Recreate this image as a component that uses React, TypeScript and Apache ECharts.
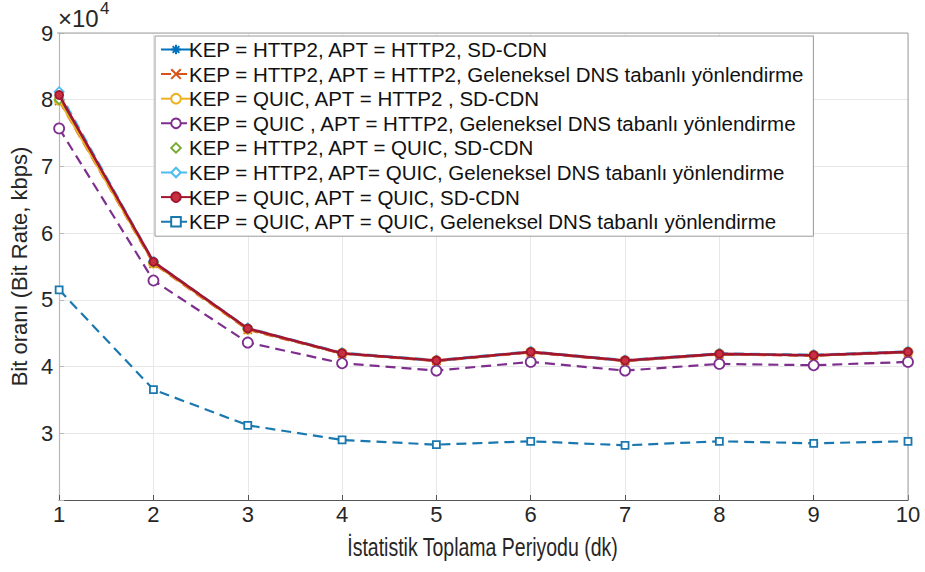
import React, { useEffect, useRef } from "react";
import * as echarts from "echarts";

// Statistics collection period (minutes)
const periods = [1, 2, 3, 4, 5, 6, 7, 8, 9, 10];

// Bit rate (kbps) per configuration
const http2Http2SdCdn = [80300, 55600, 45600, 41950, 40850, 42150, 40850, 41850, 41650, 42150];
const http2Http2Dns = [79800, 55400, 45500, 41900, 40800, 42100, 40800, 41800, 41600, 42100];
const quicHttp2SdCdn = [79900, 55500, 45600, 42000, 40900, 42200, 40900, 41900, 41700, 42200];
const quicHttp2Dns = [75700, 52900, 43600, 40500, 39400, 40700, 39400, 40400, 40200, 40700];
const http2QuicSdCdn = [80000, 55600, 45650, 42000, 40900, 42200, 40900, 41900, 41700, 42200];
const http2QuicDns = [81200, 55800, 45800, 42100, 41000, 42300, 41000, 42000, 41800, 42300];
const quicQuicSdCdn = [80700, 55700, 45700, 42000, 40900, 42200, 40900, 41900, 41700, 42200];
const quicQuicDns = [51500, 36550, 31200, 29000, 28300, 28800, 28200, 28800, 28500, 28800];

const seriesNames = [
  "KEP = HTTP2, APT = HTTP2, SD-CDN",
  "KEP = HTTP2, APT = HTTP2, Geleneksel DNS tabanlı yönlendirme",
  "KEP = QUIC, APT = HTTP2 , SD-CDN",
  "KEP = QUIC , APT = HTTP2, Geleneksel DNS tabanlı yönlendirme",
  "KEP = HTTP2, APT = QUIC, SD-CDN",
  "KEP = HTTP2, APT= QUIC, Geleneksel DNS tabanlı yönlendirme",
  "KEP = QUIC, APT = QUIC, SD-CDN",
  "KEP = QUIC, APT = QUIC, Geleneksel DNS tabanlı yönlendirme",
];

const yTicks = [20000, 30000, 40000, 50000, 60000, 70000, 80000, 90000];

const ASTERISK = "path://M5,0L5,10M0,5L10,5M1.5,1.5L8.5,8.5M8.5,1.5L1.5,8.5";
const CROSS = "path://M0,0L10,10M10,0L0,10";

const SANS = "'Liberation Sans', Arial, Helvetica, sans-serif";

type Spec = {
  values: number[];
  color: string;
  symbol: string;
  size: number;
  fill: string;
  dashed: boolean;
  noLine?: boolean;
  lineWidth: number;
};

const specs: Spec[] = [
  { values: http2Http2SdCdn, color: "#0072BD", symbol: ASTERISK, size: 9, fill: "#0072BD", dashed: false, lineWidth: 2 },
  { values: http2Http2Dns, color: "#D95319", symbol: CROSS, size: 8, fill: "#D95319", dashed: true, lineWidth: 2 },
  { values: quicHttp2SdCdn, color: "#EDB120", symbol: "circle", size: 9, fill: "#ffffff", dashed: false, lineWidth: 2 },
  { values: quicHttp2Dns, color: "#7E2F8E", symbol: "circle", size: 10, fill: "#ffffff", dashed: true, lineWidth: 2.2 },
  { values: http2QuicSdCdn, color: "#77AC30", symbol: "diamond", size: 9, fill: "#ffffff", dashed: false, noLine: true, lineWidth: 2 },
  { values: http2QuicDns, color: "#4DBEEE", symbol: "diamond", size: 9, fill: "#ffffff", dashed: true, lineWidth: 2 },
  { values: quicQuicSdCdn, color: "#A2142F", symbol: "circle", size: 8, fill: "#c8303f", dashed: false, lineWidth: 2.6 },
  { values: quicQuicDns, color: "#1a78b0", symbol: "rect", size: 7, fill: "#ffffff", dashed: true, lineWidth: 2.2 },
];

export default function App() {
  const ref = useRef<HTMLDivElement>(null);

  useEffect(() => {
    if (!ref.current) return;
    const chart = echarts.init(ref.current, undefined, { renderer: "svg" });

    const series = specs.map((s, i) => ({
      name: seriesNames[i],
      type: "line",
      data: periods.map((p, k) => [p, s.values[k]]),
      symbol: s.symbol,
      symbolSize: s.size,
      showAllSymbol: true,
      z: 2 + i,
      lineStyle: {
        color: s.color,
        width: s.lineWidth,
        type: s.dashed ? [10, 6] : "solid",
        opacity: s.noLine ? 0 : 1,
      },
      itemStyle: {
        color: s.fill,
        borderColor: s.color,
        borderWidth: 1.8,
      },
      emphasis: { disabled: true },
    }));

    chart.setOption({
      animation: false,
      backgroundColor: "#ffffff",
      grid: { left: 57, right: 17, top: 33, bottom: 72, containLabel: false },
      xAxis: {
        type: "value",
        min: 1,
        max: 10,
        interval: 1,
        axisLine: { show: true, lineStyle: { color: "#555555", width: 1.2 } },
        axisTick: { show: true, inside: true, length: 5, lineStyle: { color: "#555555" } },
        axisLabel: { fontSize: 22, color: "#262626", fontFamily: SANS, margin: 3 },
        splitLine: { show: true, lineStyle: { color: "#e8e8e8", width: 1 } },
      },
      yAxis: {
        type: "value",
        min: 20000,
        max: 90000,
        interval: 10000,
        name: "Bit oranı (Bit Rate, kbps)",
        nameLocation: "middle",
        nameGap: 25,
        nameTextStyle: { fontSize: 22, color: "#262626", fontFamily: SANS },
        axisLine: { show: true, lineStyle: { color: "#b8b8b8", width: 1.2 } },
        axisTick: { show: true, inside: true, length: 5, lineStyle: { color: "#b8b8b8" } },
        axisLabel: {
          fontSize: 22,
          color: "#262626",
          fontFamily: SANS,
          margin: 6,
          formatter: (v: number) => (v === yTicks[0] ? "" : String(v / 10000)),
        },
        splitLine: { show: true, lineStyle: { color: "#e8e8e8", width: 1 } },
      },
      legend: {
        show: true,
        orient: "vertical",
        left: 155,
        top: 36,
        width: 657,
        padding: [3, 8, 4, 5],
        itemGap: 3.6,
        itemWidth: 30,
        itemHeight: 12,
        backgroundColor: "#ffffff",
        borderColor: "#9a9a9a",
        borderWidth: 1,
        selectedMode: false,
        textStyle: { fontSize: 20.5, color: "#111111", fontFamily: SANS, padding: [0, 0, 0, -7] },
        data: seriesNames,
      },
      graphic: [
        // plot box: top and right edges
        {
          type: "polyline",
          z: 1,
          shape: { points: [[57, 33], [908, 33], [908, 500]] },
          style: { stroke: "#a0a0a0", lineWidth: 1, fill: "none" },
        },
        {
          type: "text",
          x: 58,
          y: 6,
          style: { text: "×10", fontSize: 24, fill: "#262626", fontFamily: SANS },
        },
        {
          type: "text",
          x: 100,
          y: 0,
          style: { text: "4", fontSize: 17, fill: "#262626", fontFamily: SANS },
        },
        // x-axis title, set in a condensed width
        {
          type: "text",
          x: 482.5,
          y: 548,
          scaleX: 0.78,
          style: {
            text: "İstatistik Toplama Periyodu (dk)",
            fontSize: 25,
            fill: "#262626",
            fontFamily: SANS,
            align: "center",
            verticalAlign: "middle",
          },
        },
      ],
      series,
    });

    return () => chart.dispose();
  }, []);

  return (
    <div
      ref={ref}
      style={{ position: "fixed", left: 0, top: 0, width: 925, height: 572, background: "#fff" }}
    />
  );
}
